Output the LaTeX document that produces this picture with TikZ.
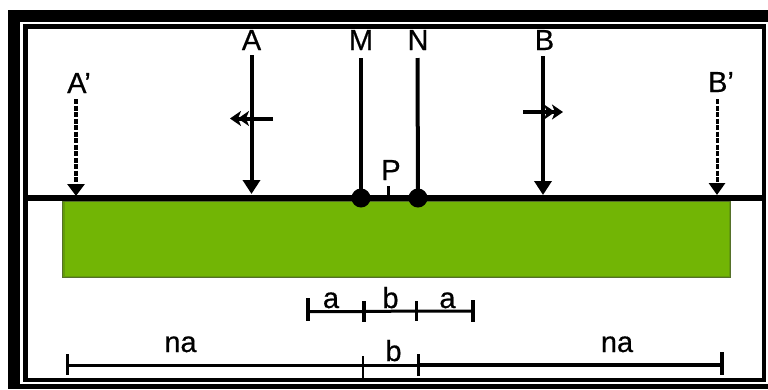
\documentclass[tikz,border=0pt]{standalone}
\usepackage{fontspec}
\setmainfont{Liberation Sans}
\newfontfamily\labfont[FakeBold=0.5]{Liberation Sans}
\usetikzlibrary{arrows.meta}
\definecolor{slabgreen}{HTML}{72B505}
\definecolor{slabedge}{HTML}{55702A}
\definecolor{slabglow}{HTML}{639C0A}
\tikzset{
  lab/.style={inner sep=0pt,anchor=base,font=\labfont\fontsize{29}{29}\selectfont},
  frameline/.style={draw=black,fill=none},
  force/.style={draw=black,line width=4pt,-{Triangle[width=17pt,length=14pt]}},
  forcedash/.style={draw=black,line width=4pt,dash pattern=on 5pt off 1.5pt,-{Triangle[width=17pt,length=12pt]}},
  forcedashthin/.style={draw=black,line width=3pt,dash pattern=on 5pt off 1.5pt,-{Triangle[width=16pt,length=12pt]}},
  plain/.style={draw=black,line width=4pt},
  shift arrow/.style={draw=black,line width=4pt,-{Stealth[length=11pt,width=15pt,inset=3pt,sep=-3pt]Stealth[length=11pt,width=15pt,inset=3pt]}},
  beam/.style={draw=black,line width=6pt},
  hinge/.style={circle,fill=black,inner sep=0pt,minimum size=19pt},
  dimline/.style={draw=black,line width=3pt},
  dimtick/.style={draw=black,line width=3.5pt},
  slab/.style={rectangle,fill=slabgreen,draw=slabedge,line width=1.5pt,outer sep=0pt,inner sep=0pt,anchor=north west,minimum width=668pt,minimum height=76pt}
}
\begin{document}
\begin{tikzpicture}[x=1pt,y=-1pt]
\useasboundingbox (0,0) rectangle (768,389);
\fill[white] (0,0) rectangle (768,389);
% frames
\fill[black] (8,10) rectangle (768,22);
\fill[black] (8,10) rectangle (20,389);
\fill[black] (8,384) rectangle (768,389);
\draw[frameline,line width=4.5pt] (25.25,26.5) rectangle (764,380);
% slab and beam
\node[slab] (slabbox) at (62.5,201) {};
\draw[slabglow,line width=1.5pt] (64,202) -- (64,276.5) -- (729.5,276.5) -- (729.5,202);
\coordinate (beamL) at (26,198);
\coordinate (beamR) at (762,198);
\draw[beam] (beamL) -- (beamR);
% hinges
\node[hinge] (M) at (361,198) {};
\node[hinge] (N) at (418,198) {};
% labels
\node[lab] (lA) at (251.5,50) {A};
\node[lab] (lM) at (361,50) {M};
\node[lab] (lN) at (418,50) {N};
\node[lab] (lB) at (544.5,50) {B};
\node[lab] (lAp) at (79,93) {A’};
\node[lab] (lBp) at (721,92) {B’};
\node[lab] (lP) at (391,180) {P};
% load lines
\coordinate (Atop) at (251.5,55);
\coordinate (Abot) at (251.5,194);
\coordinate (Btop) at (543,56);
\coordinate (Bbot) at (543,195);
\coordinate (Aptop) at (76,99);
\coordinate (Apbot) at (76,196);
\coordinate (Bptop) at (717,99);
\coordinate (Bpbot) at (717,195);
\coordinate (Mtop) at (361,58);
\coordinate (Ntop) at (417.5,58);
\draw[force] (Atop) -- (Abot);
\draw[force] (Btop) -- (Bbot);
\draw[forcedash] (Aptop) -- (Apbot);
\draw[forcedashthin] (Bptop) -- (Bpbot);
\draw[plain] (Mtop) -- (M.center);
\draw[plain] (Ntop) -- (N.center);
% shift arrows
\coordinate (sAs) at (273,118.5);
\coordinate (sAe) at (230,118.5);
\coordinate (sBs) at (523,112);
\coordinate (sBe) at (563,112);
\draw[shift arrow] (sAs) -- (sAe);
\draw[shift arrow] (sBs) -- (sBe);
% P tick
\coordinate (Pt) at (388.5,186);
\coordinate (Pb) at (388.5,196);
\draw[draw=black,line width=2.5pt] (Pt) -- (Pb);
% upper dimension
\coordinate (u1) at (308,311.5);
\coordinate (u2) at (364,311.5);
\coordinate (u3) at (416.5,311);
\coordinate (u4) at (473,311);
\draw[dimline] (u1) -- (u2) -- (u3) -- (u4);
\draw[dimtick] (308,298) -- (u1) -- (308,321);
\draw[dimtick] (364,301) -- (u2) -- (364,322);
\draw[dimtick] (416.5,301) -- (u3) -- (416.5,321);
\draw[dimtick] (473,300) -- (u4) -- (473,322);
\node[lab] (ua1) at (331,308) {a};
\node[lab] (ub) at (390.5,308) {b};
\node[lab] (ua2) at (447.5,308) {a};
% lower dimension
\coordinate (d1) at (67.5,365);
\coordinate (d2) at (363,365);
\coordinate (d3) at (418.5,365);
\coordinate (d4) at (722,365);
\draw[dimline] (d1) -- (d2) -- (d3);
\draw[dimline,line width=4pt] (d3) -- (d4);
\draw[dimtick] (67.5,354) -- (d1) -- (67.5,375);
\draw[dimtick,line width=2.5pt] (363,356) -- (d2) -- (363,378);
\draw[dimtick] (418.5,354) -- (d3) -- (418.5,376);
\draw[dimtick] (722,352) -- (d4) -- (722,375);
\node[lab] (dna1) at (180.5,352) {na};
\node[lab] (db) at (393.5,361) {b};
\node[lab] (dna2) at (617,352) {na};
\end{tikzpicture}
\end{document}
